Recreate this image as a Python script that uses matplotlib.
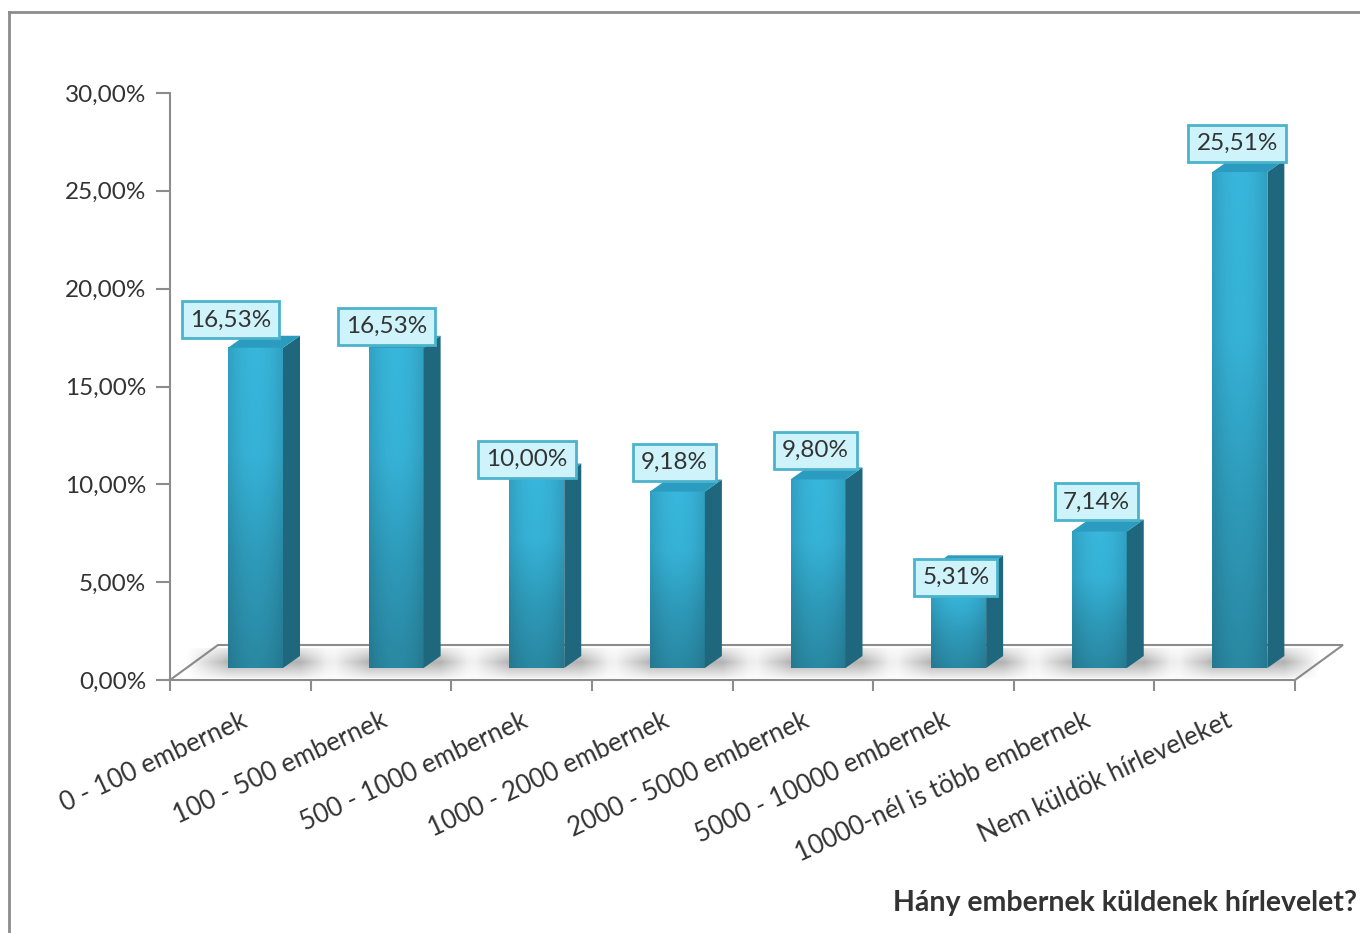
import numpy as np
import matplotlib
matplotlib.use("Agg")
import matplotlib.pyplot as plt
from matplotlib.patches import Polygon
from matplotlib.colors import LinearSegmentedColormap
from matplotlib.lines import Line2D

plt.rcParams['font.family'] = ['Lato', 'DejaVu Sans']

# ---------------- data ----------------
categories = ['0 - 100 embernek', '100 - 500 embernek', '500 - 1000 embernek',
              '1000 - 2000 embernek', '2000 - 5000 embernek', '5000 - 10000 embernek',
              '10000-nél is több embernek', 'Nem küldök hírleveleket']
values = [16.53, 16.53, 10.00, 9.18, 9.80, 5.31, 7.14, 25.51]
value_labels = ['16,53%', '16,53%', '10,00%', '9,18%', '9,80%', '5,31%', '7,14%', '25,51%']
yticks = [0, 5, 10, 15, 20, 25, 30]
ytick_labels = ['0,00%', '5,00%', '10,00%', '15,00%', '20,00%', '25,00%', '30,00%']
title = 'Hány embernek küldenek hírlevelet?'

# ---------------- style / layout ----------------
W, H = 1360, 933
fig = plt.figure(figsize=(W / 100, H / 100), dpi=100)
ax_l, ax_r, ax_b, ax_t = 170, 1295, 680, 93
ax = fig.add_axes([ax_l / W, 1 - ax_b / H, (ax_r - ax_l) / W, (ax_b - ax_t) / H])
n = len(values)
ax.set_xlim(0, n)
ax.set_ylim(0, 30)
px_x = (ax_r - ax_l) / n          # px per category
px_y = (ax_b - ax_t) / 30.0       # px per percent

grey = '#8c8c8c'
floor_dx = 48 / px_x
floor_dy = 35 / px_y
depth_dx = 17 / px_x
depth_dy = 12 / px_y
front_left = 58 / px_x
front_right = 113 / px_x
base = 12 / px_y
top_extra = 0.45
label_off = [1.87, 1.56, 1.29, 1.96, 1.95, -0.05, 1.96, 1.93]
label_dx = [-0.18, -0.07, -0.07, -0.02, -0.02, -0.02, -0.02, -0.02]

for s in ['top', 'right', 'bottom']:
    ax.spines[s].set_visible(False)
ax.spines['left'].set_color(grey)
ax.spines['left'].set_linewidth(1.5)
ax.set_yticks(yticks)
ax.set_yticklabels(ytick_labels, fontsize=17.5, color='#333333')
ax.tick_params(axis='y', length=10, width=1.5, color=grey, pad=7)

# x ticks at boundaries, labels at centers
ax.set_xticks(np.arange(n + 1))
ax.set_xticklabels([])
ax.tick_params(axis='x', which='major', length=8, width=1.5, color=grey)
ax.set_xticks(np.arange(n) + 0.5, minor=True)
ax.set_xticklabels(categories, minor=True, rotation=25, ha='right', va='top',
                   rotation_mode='anchor', fontsize=18.5, color='#333333')
ax.tick_params(axis='x', which='minor', length=0, pad=20)

# floor outline
floor = [(0, 0), (floor_dx, floor_dy), (n + floor_dx, floor_dy), (n, 0), (0, 0)]
fx, fy = zip(*floor)
ax.plot(fx, fy, color=grey, lw=1.5, clip_on=False, zorder=1, solid_joinstyle='miter')

# shadows
for i, v in enumerate(values):
    x0 = i + front_left
    x1 = i + front_right
    sx0, sx1 = x0 - 0.3, x1 + depth_dx + 0.25
    sy0, sy1 = base - 0.5, base + depth_dy + 0.4
    nx, ny = 120, 40
    xs = np.linspace(sx0, sx1, nx)
    ys = np.linspace(sy0, sy1, ny)
    ax_a = np.clip(np.minimum((xs - sx0) / 0.3, (sx1 - xs) / 0.25), 0, 1)
    yc = base + 0.3
    ay = np.clip(1 - np.abs(ys - yc) / 1.0, 0, 1)
    alpha = 0.55 * np.outer(ay, ax_a)
    img = np.zeros((ny, nx, 4))
    img[..., :3] = 0.45
    img[..., 3] = alpha
    ax.imshow(img, extent=[sx0, sx1, sy0, sy1], origin='lower', aspect='auto',
              zorder=2, clip_on=False, interpolation='bilinear')

front_cmap = LinearSegmentedColormap.from_list('f', ['#2a88a2', '#2e9ab9', '#36b2d7', '#38b6db'])

for i, v in enumerate(values):
    x0 = i + front_left
    x1 = i + front_right
    top = v + top_extra
    # front face gradient
    grad = np.linspace(0, 1, 200).reshape(-1, 1)
    hor = 1 - 0.12 * np.abs(np.linspace(-1, 1, 40)) ** 2
    rgba = front_cmap(grad)[:, :, :3] * hor.reshape(1, -1, 1)
    rgba = np.concatenate([rgba, np.ones((200, 40, 1))], axis=2)
    ax.imshow(rgba, extent=[x0, x1, base, top], origin='lower', aspect='auto',
              zorder=4, clip_on=False, interpolation='bilinear')
    # side face
    side = Polygon([(x1, base), (x1 + depth_dx, base + depth_dy),
                    (x1 + depth_dx, top + depth_dy), (x1, top)],
                   closed=True, facecolor='#1e677c', edgecolor='none', zorder=4, clip_on=False)
    ax.add_patch(side)
    # top face
    topf = Polygon([(x0, top), (x0 + depth_dx, top + depth_dy),
                    (x1 + depth_dx, top + depth_dy), (x1, top)],
                   closed=True, facecolor='#2b9cbf', edgecolor='none', zorder=4, clip_on=False)
    ax.add_patch(topf)
    # label
    cx = (x0 + x1) / 2 + label_dx[i]
    ax.text(cx, v + label_off[i], value_labels[i], ha='center', va='center',
            fontsize=17.5, color='#333333', zorder=6, clip_on=False,
            bbox=dict(boxstyle='square,pad=0.33', facecolor='#cff3fb',
                      edgecolor='#4bb3cc', linewidth=2))

# outer border (left & top)
fig.add_artist(Line2D([9 / W, 9 / W], [0, 1 - 12 / H], color='#8c8c8c', lw=2))
fig.add_artist(Line2D([9 / W, 1], [1 - 12 / H, 1 - 12 / H], color='#8c8c8c', lw=2))

fig.text(1357 / W, 1 - 903 / H, title, ha='right', va='center', fontsize=20.5,
         fontweight='bold', color='#333333')

fig.savefig('out.png', dpi=100)
